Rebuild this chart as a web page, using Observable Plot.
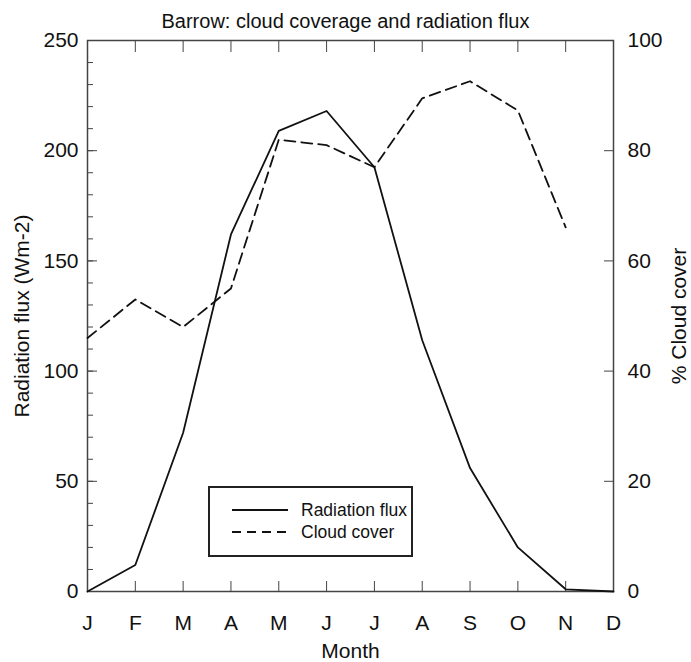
<!DOCTYPE html>
<html><head><meta charset="utf-8">
<script src="https://cdn.jsdelivr.net/npm/d3@7"></script>
<script src="https://cdn.jsdelivr.net/npm/@observablehq/plot@0.6"></script>
<style>
body{margin:0;background:#fff;font-family:"Liberation Sans",Arial,sans-serif;}
#wrap{position:relative;width:691px;height:662px;}
#legend{position:absolute;left:208px;top:486px;width:201px;height:67px;border:2px solid #222;box-sizing:content-box;font-size:17.5px;color:#111;}
#legend .row{position:absolute;left:22px;height:20px;display:flex;align-items:center;}
#legend svg{margin-right:13px;}
</style></head><body>
<div id="wrap"><div id="legend"></div></div>
<script>
const title = "Barrow: cloud coverage and radiation flux";
const months = ["J","F","M","A","M","J","J","A","S","O","N","D"];
const radiation = [0, 12, 72, 162, 209, 218, 192.5, 114, 56, 20, 1, 0];
const cloud = [46, 53, 48, 55, 82, 81, 77, 89.5, 92.6, 87.3, 66.1, null];
const fluxTicks = [0, 50, 100, 150, 200, 250];
const fluxMinorTicks = d3.range(0, 251, 10);
const cloudTicks = [0, 20, 40, 60, 80, 100];
const fluxMax = 250, cloudMax = 100;
const k = fluxMax / cloudMax;

const data = months.map((m, i) => ({i, m, radiation: radiation[i], cloud: cloud[i]}));
const monthIdx = months.map((m, i) => i);
const ink = "#444";

const chart = Plot.plot({
  width: 691, height: 662,
  marginLeft: 87, marginRight: 78, marginTop: 40, marginBottom: 71,
  style: {fontFamily: '"Liberation Sans", Arial, sans-serif', fontSize: "21px", color: "#111", background: "#fff"},
  x: {domain: [0, months.length - 1]},
  y: {domain: [0, fluxMax]},
  marks: [
    Plot.frame({stroke: ink, strokeWidth: 1.5}),
    // left ticks
    Plot.axisY({ticks: fluxMinorTicks, tickSize: -6, fill: "none", stroke: ink, label: null}),
    Plot.axisY({ticks: fluxTicks, tickSize: -10, fill: "none", stroke: ink, label: null}),
    Plot.axisY({ticks: fluxTicks, tickSize: 0, tickPadding: 9, label: "Radiation flux (Wm-2)", labelArrow: "none", labelAnchor: "center", labelOffset: 73, fontSize: 21}),
    // right ticks
    Plot.axisY({anchor: "right", ticks: cloudTicks.map(v => v * k), tickSize: -10, fill: "none", stroke: ink, label: null}),
    Plot.axisY({anchor: "right", ticks: cloudTicks.map(v => v * k), tickFormat: d => Math.round(d / k), tickSize: 0, tickPadding: 14, label: "% Cloud cover", labelArrow: "none", labelAnchor: "center", labelOffset: 72, fontSize: 21}),
    // x ticks
    Plot.axisX({anchor: "bottom", ticks: monthIdx, tickSize: -10, fill: "none", stroke: ink, label: null}),
    Plot.axisX({anchor: "top", ticks: monthIdx, tickSize: -11, fill: "none", stroke: ink, label: null}),
    Plot.axisX({anchor: "bottom", ticks: monthIdx, tickFormat: i => months[i], tickSize: 0, tickPadding: 24, label: "Month", labelArrow: "none", labelAnchor: "center", labelOffset: 66, fontSize: 21}),
    // series
    Plot.line(data, {x: "i", y: "radiation", stroke: "#111", strokeWidth: 1.8}),
    Plot.line(data, {x: "i", y: d => d.cloud == null ? NaN : d.cloud * k, stroke: "#111", strokeWidth: 1.8, strokeDasharray: "11,6"}),
    // title
    Plot.text([title], {frameAnchor: "top", dy: -27, dx: -5, fontSize: 20, fill: "#111"})
  ]
});
document.getElementById("wrap").prepend(chart);

const legendItems = [{label: "Radiation flux", dash: null}, {label: "Cloud cover", dash: "9,6"}];
const lg = document.getElementById("legend");
legendItems.forEach((it, j) => {
  const row = document.createElement("div");
  row.className = "row";
  row.style.top = (12 + j * 22) + "px";
  row.innerHTML = `<svg width="56" height="6"><line x1="0" y1="3" x2="56" y2="3" stroke="#111" stroke-width="2" ${it.dash ? `stroke-dasharray="${it.dash}"` : ""}/></svg><span>${it.label}</span>`;
  lg.appendChild(row);
});
</script>
</body></html>
